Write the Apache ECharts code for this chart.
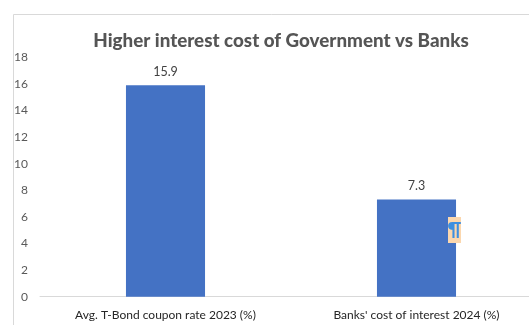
<!DOCTYPE html>
<html><head><meta charset="utf-8">
<script src="https://cdn.jsdelivr.net/npm/echarts@6/dist/echarts.min.js"></script>
<style>html,body{margin:0;padding:0;background:#fff}#c{width:529px;height:325px}</style>
</head><body><div id="c"></div>
<script>
const titleText = 'Higher interest cost of Government vs Banks';
const categories = ['Avg. T-Bond coupon rate 2023 (%)', "Banks' cost of interest 2024 (%)"];
const values = [15.9, 7.3];
const yMin = 0, yMax = 18, yStep = 2;

const chart = echarts.init(document.getElementById('c'), null, {renderer: 'canvas'});
chart.setOption({
  animation: false,
  backgroundColor: '#fff',
  title: {
    text: titleText, left: 276, top: 26, textAlign: 'center',
    textStyle: {fontFamily: 'Lato', fontWeight: 900, fontSize: 18.8, color: '#555555'}
  },
  grid: {left: 40, width: 502, top: 57.3, bottom: 28.3, containLabel: false, outerBoundsMode: 'none'},
  xAxis: {
    type: 'category', data: categories,
    axisLine: {lineStyle: {color: '#d9d9d9', width: 1}},
    axisTick: {show: false},
    axisLabel: {color: '#262626', fontFamily: 'Lato', fontSize: 12, margin: 12, interval: 0, hideOverlap: false}
  },
  yAxis: {
    type: 'value', min: yMin, max: yMax, interval: yStep,
    splitLine: {show: false},
    axisLine: {show: false}, axisTick: {show: false},
    axisLabel: {color: '#595959', fontFamily: 'Lato', fontSize: 12, margin: 12}
  },
  series: [{
    type: 'bar', data: values, barWidth: '31.5%',
    itemStyle: {color: '#4472c4'},
    label: {show: true, position: 'top', distance: 7, color: '#404040', fontFamily: 'Lato', fontSize: 12.5}
  }],
  graphic: [
    {type: 'line', shape: {x1: 13.5, y1: 14.5, x2: 529, y2: 14.5}, style: {stroke: '#d9d9d9', lineWidth: 1}},
    {type: 'line', shape: {x1: 13.5, y1: 14.5, x2: 13.5, y2: 325}, style: {stroke: '#d9d9d9', lineWidth: 1}},
    {type: 'rect', shape: {x: 448, y: 217, width: 13, height: 26}, style: {fill: '#fbd7ae'}, z: 10},
    {type: 'text', x: 454.5, y: 230, style: {text: '¶', fill: '#3d8fe0', fontSize: 19, fontWeight: 'bold', fontFamily: 'Lato', align: 'center', verticalAlign: 'middle'}, z: 11}
  ]
});
</script></body></html>
